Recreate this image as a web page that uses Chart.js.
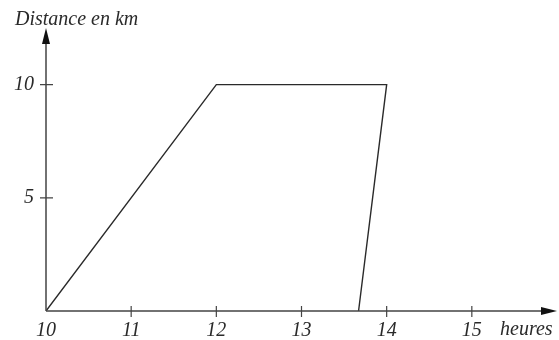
<!DOCTYPE html>
<html>
<head>
<meta charset="utf-8">
<script src="https://cdn.jsdelivr.net/npm/chart.js@4"></script>
<style>
    html, body { margin: 0; padding: 0; background: #fff; }
    #wrap { width: 559px; height: 340px; }
</style>
</head>
<body>
<div id="wrap"><canvas id="distChart" width="559" height="340"></canvas></div>
<script>
// data //
const hours = [10, 12, 14, 13.67];
const distance = [0, 10, 10, 0];
const xTicks = [10, 11, 12, 13, 14, 15];
const yTicks = [5, 10];

const ink = '#2a2a2a';
const serif = { family: '"Liberation Serif", "DejaVu Serif", serif', style: 'italic', size: 20 };

// axes with arrows, crossing ticks and titles //
const axesPlugin = {
    id: 'axesArrows',
    afterDraw(chart) {
        const { ctx, chartArea, scales } = chart;
        const x0 = scales.x.getPixelForValue(10);
        const y0 = scales.y.getPixelForValue(0);
        const xEnd = chartArea.right;
        const yEnd = chartArea.top;
        ctx.save();
        ctx.strokeStyle = '#444';
        ctx.fillStyle = '#111';
        ctx.lineWidth = 1.5;

        // axis lines
        ctx.beginPath();
        ctx.moveTo(x0, y0);
        ctx.lineTo(xEnd - 10, y0);
        ctx.moveTo(x0, y0);
        ctx.lineTo(x0, yEnd + 10);
        ctx.stroke();

        // arrow heads
        ctx.beginPath();
        ctx.moveTo(xEnd, y0);
        ctx.lineTo(xEnd - 16, y0 - 4);
        ctx.lineTo(xEnd - 16, y0 + 4);
        ctx.closePath();
        ctx.fill();
        ctx.beginPath();
        ctx.moveTo(x0, yEnd);
        ctx.lineTo(x0 - 4, yEnd + 16);
        ctx.lineTo(x0 + 4, yEnd + 16);
        ctx.closePath();
        ctx.fill();

        // tick marks
        ctx.lineWidth = 1.2;
        ctx.beginPath();
        xTicks.slice(1).forEach(v => {
            const px = scales.x.getPixelForValue(v);
            ctx.moveTo(px, y0 - 5);
            ctx.lineTo(px, y0 + 6);
        });
        yTicks.forEach(v => {
            const py = scales.y.getPixelForValue(v);
            ctx.moveTo(x0 - 6, py);
            ctx.lineTo(x0 + 7, py);
        });
        ctx.stroke();

        // titles
        ctx.fillStyle = ink;
        ctx.font = 'italic 20px "Liberation Serif", "DejaVu Serif", serif';
        ctx.textBaseline = 'alphabetic';
        ctx.textAlign = 'left';
        ctx.fillText('Distance en km', 15, 25);
        ctx.fillText('heures', 500, 335);
        ctx.restore();
    }
};

document.addEventListener('DOMContentLoaded', () => {
    const ctx = document.getElementById('distChart').getContext('2d');
    const distChart = new Chart(ctx, {
        type: 'line',
        data: {
            datasets: [{
                label: 'Distance',
                data: hours.map((h, i) => ({ x: h, y: distance[i] })),
                borderColor: ink,
                borderWidth: 1.4,
                pointRadius: 0,
                fill: false,
                tension: 0
            }]
        },
        options: {
            responsive: false,
            animation: false,
            layout: { padding: { top: 28, right: 2, left: 0, bottom: 0 } },
            plugins: {
                legend: { display: false },
                tooltip: { enabled: false }
            },
            scales: {
                x: {
                    type: 'linear',
                    min: 10,
                    max: 16,
                    afterBuildTicks: scale => { scale.ticks = xTicks.map(v => ({ value: v })); },
                    afterFit: scale => { scale.height = 29; },
                    grid: { display: false, drawTicks: false },
                    border: { display: false },
                    ticks: { color: ink, font: serif, padding: 8, maxRotation: 0 }
                },
                y: {
                    min: 0,
                    max: 12.5,
                    afterBuildTicks: scale => { scale.ticks = yTicks.map(v => ({ value: v })); },
                    afterFit: scale => { scale.width = 46; },
                    grid: { display: false, drawTicks: false },
                    border: { display: false },
                    ticks: { color: ink, font: serif, padding: 12 }
                }
            }
        },
        plugins: [axesPlugin]
    });
});
</script>
</body>
</html>
